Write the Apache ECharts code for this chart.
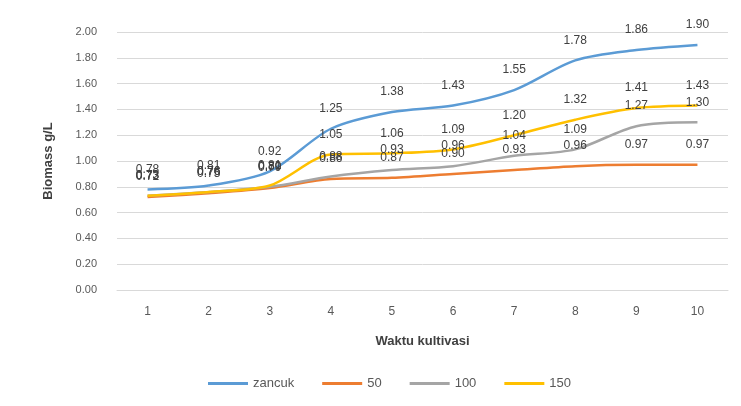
<!DOCTYPE html>
<html>
<head>
<meta charset="utf-8">
<script src="https://cdn.jsdelivr.net/npm/echarts@6/dist/echarts.min.js"></script>
<style>html,body{margin:0;padding:0;background:#fff}#c{width:741px;height:406px}</style>
</head>
<body>
<div id="c"></div>
<script>
var categories = ['1','2','3','4','5','6','7','8','9','10'];
var seriesNames = ['zancuk','50','100','150'];
var zancuk = [0.78, 0.81, 0.92, 1.25, 1.38, 1.43, 1.55, 1.78, 1.86, 1.90];
var s50 = [0.72, 0.75, 0.79, 0.86, 0.87, 0.90, 0.93, 0.96, 0.97, 0.97];
var s100 = [0.73, 0.76, 0.80, 0.88, 0.93, 0.96, 1.04, 1.09, 1.27, 1.30];
var s150 = [0.73, 0.76, 0.81, 1.05, 1.06, 1.09, 1.20, 1.32, 1.41, 1.43];
var colors = ['#5B9BD5','#ED7D31','#A5A5A5','#FFC000'];
var font = 'Liberation Sans';

function mk(name, data, color) {
  return {
    name: name, type: 'line', data: data, smooth: 0.3,
    symbol: 'circle', symbolSize: 0, showSymbol: true,
    lineStyle: {color: color, width: 2.5},
    itemStyle: {color: color},
    label: {show: true, position: 'top', distance: 14, color: '#404040',
      fontFamily: font, fontSize: 12,
      formatter: function(p){ return p.value.toFixed(2); }}
  };
}

var chart = echarts.init(document.getElementById('c'));
chart.setOption({
  animation: false,
  color: colors,
  grid: {left: 117, right: 13, top: 32, bottom: 116},
  xAxis: {
    type: 'category', data: categories, boundaryGap: true,
    name: 'Waktu kultivasi', nameLocation: 'middle', nameGap: 45,
    nameTextStyle: {fontFamily: font, fontSize: 13, fontWeight: 'bold', color: '#404040'},
    axisLine: {show: true, lineStyle: {color: '#D9D9D9'}},
    axisTick: {show: false},
    axisLabel: {fontFamily: font, fontSize: 12, color: '#595959', margin: 16}
  },
  yAxis: {
    type: 'value', min: 0, max: 2, interval: 0.2,
    name: 'Biomass g/L', nameLocation: 'middle', nameGap: 62, nameRotate: 90,
    nameTextStyle: {fontFamily: font, fontSize: 13, fontWeight: 'bold', color: '#404040'},
    axisLine: {show: false}, axisTick: {show: false},
    splitLine: {lineStyle: {color: '#D9D9D9', width: 1}},
    axisLabel: {fontFamily: font, fontSize: 11, color: '#595959', margin: 20,
      formatter: function(v){ return v.toFixed(2); }}
  },
  legend: {
    data: seriesNames, bottom: 11, left: 203,
    icon: 'rect', itemWidth: 40, itemHeight: 3, itemGap: 28,
    textStyle: {fontFamily: font, fontSize: 13, color: '#595959'}
  },
  series: [
    mk(seriesNames[0], zancuk, colors[0]),
    mk(seriesNames[1], s50, colors[1]),
    mk(seriesNames[2], s100, colors[2]),
    mk(seriesNames[3], s150, colors[3])
  ]
});
</script>
</body>
</html>
